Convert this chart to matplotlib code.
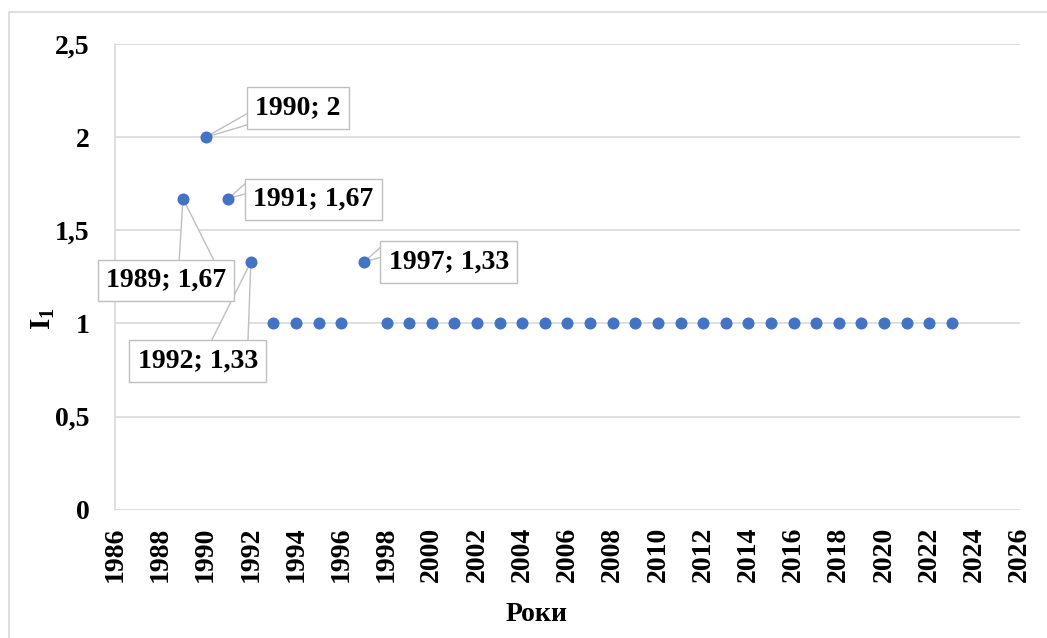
import matplotlib
matplotlib.use("Agg")
import matplotlib.pyplot as plt
from matplotlib.patches import Rectangle, Polygon

# I1 by year
years = [1989, 1990, 1991, 1992, 1993, 1994, 1995, 1996, 1997,
         1998, 1999, 2000, 2001, 2002, 2003, 2004, 2005, 2006, 2007,
         2008, 2009, 2010, 2011, 2012, 2013, 2014, 2015, 2016, 2017,
         2018, 2019, 2020, 2021, 2022, 2023]
values = [1.67, 2, 1.67, 1.33, 1, 1, 1, 1, 1.33,
          1, 1, 1, 1, 1, 1, 1, 1, 1, 1,
          1, 1, 1, 1, 1, 1, 1, 1, 1, 1,
          1, 1, 1, 1, 1, 1]
x_ticks = list(range(1986, 2027, 2))
y_ticks = [0, 0.5, 1, 1.5, 2, 2.5]
y_ticklabels = ["0", "0,5", "1", "1,5", "2", "2,5"]

# data-label callouts: year -> box offset from the point, and the two wedge
# base corners (pixels, relative to the point)
label_years = [1989, 1990, 1991, 1992, 1997]
label_offsets = [(-17, -82), (92, 29), (85, -1), (-53, -99), (85, 0)]
wedge_bases = [((-4, -64), (32, -64)),
               ((44, 25), (44, 13)),
               ((18, 16), (18, 5)),
               ((-41, -82), (-3, -82)),
               ((18, 16), (18, 5))]

plt.rcParams["font.family"] = ["Liberation Serif", "DejaVu Serif"]
plt.rcParams["font.weight"] = "bold"

fig = plt.figure(figsize=(10.47, 6.38), dpi=100)
ax = fig.add_axes([0.110, 0.201, 0.864, 0.730])

# light chart-area frame (Excel style)
fig.patches.append(Rectangle((9 / 1047, -0.1), 1.2, 1 - 12 / 638 + 0.1,
                             transform=fig.transFigure, fill=False,
                             edgecolor="#D9D9D9", linewidth=1.2))

ax.set_xlim(1986, 2026)
ax.set_ylim(0, 2.5)

fmt = lambda v: ("%g" % v).replace(".", ",")
for yr, (dx, dy), (b1, b2) in zip(label_years, label_offsets, wedge_bases):
    v = values[years.index(yr)]
    px, py = ax.transData.transform((yr, v))
    wedge = Polygon([(px, py), (px + b1[0], py + b1[1]), (px + b2[0], py + b2[1])],
                    closed=True, transform=None, fc="white", ec="#BFBFBF",
                    lw=1, zorder=3.5)
    ax.add_artist(wedge)
    ax.annotate(f"{yr}; {fmt(v)}", xy=(yr, v), xytext=(dx, dy),
                textcoords="offset pixels", ha="center", va="center",
                fontsize=20, fontweight="bold", zorder=4,
                bbox=dict(boxstyle="square,pad=0.3", fc="white", ec="#BFBFBF", lw=1))

ax.scatter(years, values, s=75, color="#4472C4", zorder=3.6, linewidths=0)

ax.set_xticks(x_ticks)
ax.set_xticklabels([str(t) for t in x_ticks], rotation=90, fontsize=20, fontweight="bold")
ax.set_yticks(y_ticks)
ax.set_yticklabels(y_ticklabels, fontsize=20, fontweight="bold")
ax.tick_params(axis="x", length=0, pad=12)
ax.tick_params(axis="y", length=0, pad=18.5)

ax.grid(axis="y", color="#D9D9D9", linewidth=1.2)
ax.set_axisbelow(True)
for s in ["top", "right", "bottom"]:
    ax.spines[s].set_visible(False)
ax.spines["left"].set_color("#D9D9D9")
ax.spines["left"].set_linewidth(1.2)

ax.set_xlabel("Роки", fontsize=20, fontweight="bold")
ax.xaxis.set_label_coords(0.466, -0.197)
ax.set_ylabel("I$_\\mathregular{1}$", fontsize=21, fontweight="bold")
ax.yaxis.set_label_coords(-0.064, 0.41)

fig.savefig("out.png", dpi=100)
